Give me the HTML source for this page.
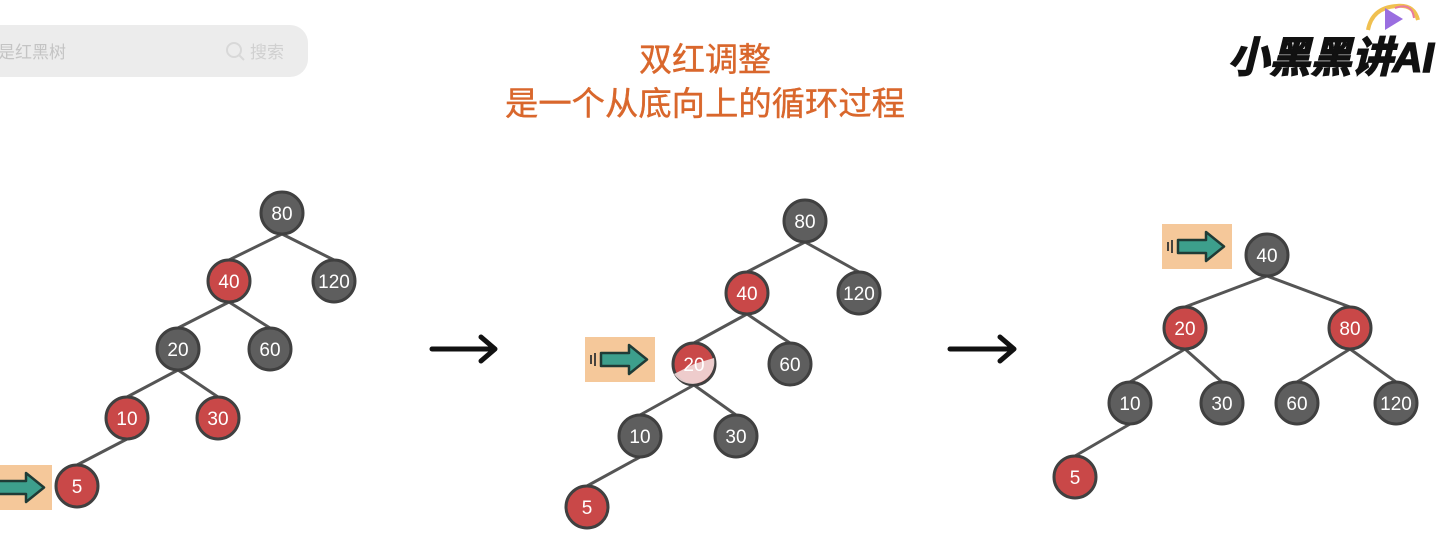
<!DOCTYPE html>
<html><head><meta charset="utf-8"><style>
html,body{margin:0;padding:0;background:#fff;width:1440px;height:544px;overflow:hidden}
svg{display:block}
.t{font-family:"Liberation Sans","Noto Sans CJK SC",sans-serif}
</style></head><body>
<svg width="1440" height="544" viewBox="0 0 1440 544" xmlns="http://www.w3.org/2000/svg">
<defs>
<g id="harrow">
<rect x="0" y="0" width="70" height="45" fill="#f5c89a"/>
<path d="M16 16 H44 V8 L62 22.5 L44 37 V29 H16 Z" fill="#3d9f8c" stroke="#1f3b36" stroke-width="2.5" stroke-linejoin="round"/>
<path d="M10 16 V29 M6 18 V27" stroke="#333" stroke-width="1.8"/>
</g>
</defs>
<!-- search bar -->
<rect x="-20" y="25" width="328" height="52" rx="18" fill="#ececec"/>
<text x="-2" y="58" class="t" font-size="17" fill="#c4c4c4">是红黑树</text>
<circle cx="234" cy="50" r="7" fill="none" stroke="#d8d8d8" stroke-width="2"/>
<line x1="239" y1="55" x2="244" y2="60" stroke="#d8d8d8" stroke-width="2"/>
<text x="250" y="58" class="t" font-size="17" fill="#d0d0d0">搜索</text>
<!-- logo -->
<path d="M1368 30 Q1372 8 1396 6 Q1414 4 1418 20" stroke="#f0c050" stroke-width="4" fill="none"/>
<path d="M1395 8 Q1412 2 1414 18" stroke="#e87aa0" stroke-width="2" fill="none"/>
<path d="M1385 8 L1403 19 L1385 30 Z" fill="#9a6ee0"/>
<text x="1228" y="72" class="t" font-size="42" font-weight="bold" font-style="italic" fill="#111" stroke="#111" stroke-width="1.5" textLength="206" lengthAdjust="spacingAndGlyphs">小黑黑讲AI</text>
<!-- title -->
<text x="705" y="71" text-anchor="middle" class="t" font-size="33" fill="#d9672c" stroke="#d9672c" stroke-width="0.4">双红调整</text>
<text x="705" y="115" text-anchor="middle" class="t" font-size="33" fill="#d9672c" stroke="#d9672c" stroke-width="0.4" textLength="400" lengthAdjust="spacingAndGlyphs">是一个从底向上的循环过程</text>
<g stroke="#555" stroke-width="3">
<!-- tree1 -->
<line x1="282" y1="234" x2="229" y2="260"/><line x1="282" y1="234" x2="334" y2="260"/>
<line x1="229" y1="302" x2="178" y2="328"/><line x1="229" y1="302" x2="270" y2="328"/>
<line x1="178" y1="370" x2="127" y2="397"/><line x1="178" y1="370" x2="218" y2="397"/>
<line x1="127" y1="439" x2="77" y2="465"/>
<!-- tree2 -->
<line x1="805" y1="242" x2="747" y2="272"/><line x1="805" y1="242" x2="859" y2="272"/>
<line x1="747" y1="314" x2="694" y2="343"/><line x1="747" y1="314" x2="790" y2="343"/>
<line x1="694" y1="385" x2="640" y2="415"/><line x1="694" y1="385" x2="736" y2="415"/>
<line x1="640" y1="457" x2="587" y2="486"/>
<!-- tree3 -->
<line x1="1267" y1="276" x2="1185" y2="307"/><line x1="1267" y1="276" x2="1350" y2="307"/>
<line x1="1185" y1="349" x2="1130" y2="382"/><line x1="1185" y1="349" x2="1222" y2="382"/>
<line x1="1350" y1="349" x2="1297" y2="382"/><line x1="1350" y1="349" x2="1396" y2="382"/>
<line x1="1130" y1="424" x2="1075" y2="456"/>
</g>
<g class="t" font-size="19" text-anchor="middle" fill="#fff" stroke-width="3">
<g stroke="#404040" fill="#5e5e5e">
<circle cx="282" cy="213" r="21"/><circle cx="334" cy="281" r="21"/><circle cx="178" cy="349" r="21"/><circle cx="270" cy="349" r="21"/>
<circle cx="805" cy="221" r="21"/><circle cx="859" cy="293" r="21"/><circle cx="790" cy="364" r="21"/><circle cx="640" cy="436" r="21"/><circle cx="736" cy="436" r="21"/>
<circle cx="1267" cy="255" r="21"/><circle cx="1130" cy="403" r="21"/><circle cx="1222" cy="403" r="21"/><circle cx="1297" cy="403" r="21"/><circle cx="1396" cy="403" r="21"/>
</g>
<g stroke="#404040" fill="#c94848">
<circle cx="229" cy="281" r="21"/><circle cx="127" cy="418" r="21"/><circle cx="218" cy="418" r="21"/><circle cx="77" cy="486" r="21"/>
<circle cx="747" cy="293" r="21"/><circle cx="694" cy="364" r="21"/><circle cx="587" cy="507" r="21"/>
<circle cx="1185" cy="328" r="21"/><circle cx="1350" cy="328" r="21"/><circle cx="1075" cy="477" r="21"/>
</g>
<path d="M714 358 A22 22 0 0 1 674 374 L694 364Z" fill="#f2dada" stroke="none" opacity="0.9"/>
<g stroke="none">
<text x="282" y="220">80</text><text x="229" y="288">40</text><text x="334" y="288">120</text><text x="178" y="356">20</text><text x="270" y="356">60</text><text x="127" y="425">10</text><text x="218" y="425">30</text><text x="77" y="493">5</text>
<text x="805" y="228">80</text><text x="747" y="300">40</text><text x="859" y="300">120</text><text x="694" y="371">20</text><text x="790" y="371">60</text><text x="640" y="443">10</text><text x="736" y="443">30</text><text x="587" y="514">5</text>
<text x="1267" y="262">40</text><text x="1185" y="335">20</text><text x="1350" y="335">80</text><text x="1130" y="410">10</text><text x="1222" y="410">30</text><text x="1297" y="410">60</text><text x="1396" y="410">120</text><text x="1075" y="484">5</text>
</g>
</g>
<!-- highlight arrows -->
<use href="#harrow" x="-18" y="465"/>
<use href="#harrow" x="585" y="337"/>
<use href="#harrow" x="1162" y="224"/>
<!-- black arrows -->
<g stroke="#111" stroke-width="5" fill="none" stroke-linecap="round" stroke-linejoin="round">
<line x1="432" y1="349" x2="494" y2="349"/><path d="M481 337 L495 349 L481 361"/>
<line x1="950" y1="349" x2="1013" y2="349"/><path d="M1000 337 L1014 349 L1000 361"/>
</g>
</svg>
</body></html>
